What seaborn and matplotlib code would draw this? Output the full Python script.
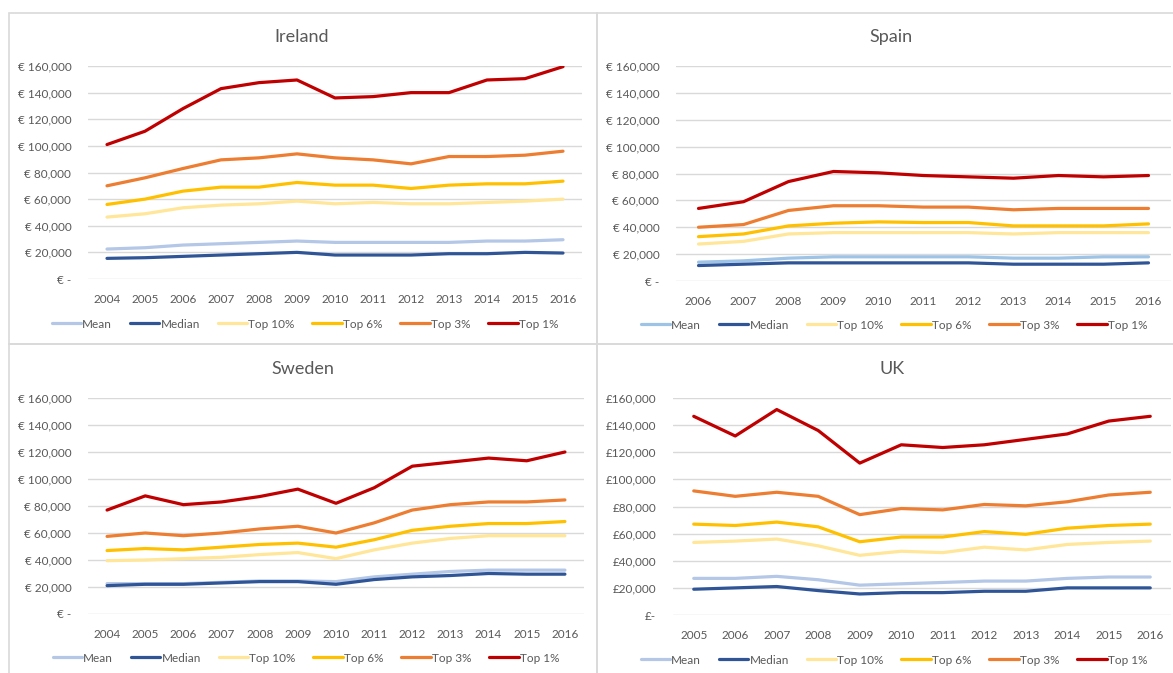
import pandas as pd
import matplotlib.pyplot as plt
import seaborn as sns
from matplotlib.ticker import FuncFormatter
from matplotlib.patches import Rectangle

# --- data ---
series = ['Mean', 'Median', 'Top 10%', 'Top 6%', 'Top 3%', 'Top 1%']

ireland_years = list(range(2004, 2017))
ireland_mean = [22500, 23500, 25500, 26500, 27500, 28500, 27500, 27500, 27500, 27500, 28500, 28500, 29500]
ireland_median = [15500, 16000, 17000, 18000, 19000, 20000, 18000, 18000, 18000, 19000, 19000, 20000, 19500]
ireland_top10 = [46500, 49000, 53500, 55500, 56500, 58500, 56500, 57500, 56500, 56500, 57500, 58500, 60000]
ireland_top6 = [56000, 60000, 66000, 69000, 69000, 72500, 70500, 70500, 68000, 70500, 71500, 71500, 73500]
ireland_top3 = [70000, 76000, 83000, 89500, 91000, 94000, 91000, 89500, 86500, 92000, 92000, 93000, 96000]
ireland_top1 = [101000, 111000, 128000, 143000, 147500, 149500, 136000, 137000, 140000, 140000, 149500, 150500, 159500]

spain_years = list(range(2006, 2017))
spain_mean = [14000, 15000, 17000, 18000, 18000, 18000, 18000, 17000, 17000, 18000, 18000]
spain_median = [11500, 12500, 13500, 13500, 13500, 13500, 13500, 12500, 12500, 12500, 13500]
spain_top10 = [27500, 29500, 35000, 36000, 36000, 36000, 36000, 35000, 36000, 36000, 36000]
spain_top6 = [33000, 35000, 41000, 43000, 44000, 43500, 43500, 41000, 41000, 41000, 42500]
spain_top3 = [40000, 42000, 52500, 56000, 56000, 55000, 55000, 53000, 54000, 54000, 54000]
spain_top1 = [54000, 59000, 74000, 81500, 80500, 78500, 77500, 76500, 78500, 77500, 78500]

sweden_years = list(range(2004, 2017))
sweden_mean = [22500, 22500, 22500, 23500, 24500, 24500, 24000, 27500, 29500, 31500, 32500, 32500, 32500]
sweden_median = [21000, 22000, 22000, 23000, 24000, 24000, 22000, 25500, 27500, 28500, 30000, 29500, 29500]
sweden_top10 = [39500, 40000, 41000, 42000, 44000, 45500, 41000, 47500, 52500, 56000, 58000, 58000, 58000]
sweden_top6 = [47000, 48500, 47500, 49500, 51500, 52500, 49500, 55000, 62000, 65000, 67000, 67000, 68500]
sweden_top3 = [57500, 60000, 58000, 60000, 63000, 65000, 60000, 67500, 77000, 81000, 83000, 83000, 84500]
sweden_top1 = [77000, 87500, 81000, 83000, 87000, 92500, 82000, 93500, 109500, 112500, 115500, 113500, 120000]

uk_years = list(range(2005, 2017))
uk_mean = [27000, 27000, 28500, 26000, 22000, 23000, 24000, 25000, 25000, 27000, 28000, 28000]
uk_median = [19000, 20000, 21000, 18000, 15500, 16500, 16500, 17500, 17500, 20000, 20000, 20000]
uk_top10 = [53500, 54500, 56000, 51000, 44000, 47000, 46000, 50000, 48000, 52000, 53500, 54500]
uk_top6 = [67000, 66000, 68500, 65000, 54000, 57500, 57500, 61500, 59500, 64000, 66000, 67000]
uk_top3 = [91500, 87500, 90500, 87500, 74000, 78500, 77500, 81500, 80500, 83500, 88500, 90500]
uk_top1 = [146500, 132000, 151500, 136000, 112000, 125500, 123500, 125500, 129500, 133500, 143000, 146500]

colors = ['#B4C7E7', '#2F5597', '#FFE699', '#FFC000', '#ED7D31', '#C00000']
spain_colors = ['#9DC3E6', '#2F5597', '#FFE699', '#FFC000', '#ED7D31', '#C00000']


def to_long(years, cols):
    rows = []
    for name, vals in zip(series, cols):
        for y, v in zip(years, vals):
            rows.append({'Year': y, 'Series': name, 'Value': v})
    return pd.DataFrame(rows)


sns.set_theme(style='white')
plt.rcParams['font.family'] = ['Lato', 'DejaVu Sans']
grey = '#595959'

W, H = 1173, 673
fig = plt.figure(figsize=(W / 100, H / 100), dpi=100)
fig.patch.set_facecolor('white')

# panel frames
for (x0, y0, x1, y1) in [(9, 13, 597, 344), (597, 13, 1185, 344),
                         (9, 344, 597, 690), (597, 344, 1185, 690)]:
    fig.patches.append(Rectangle((x0 / W, 1 - y1 / H), (x1 - x0) / W, (y1 - y0) / H,
                                 transform=fig.transFigure, fill=False,
                                 edgecolor='#D9D9D9', lw=1.2, zorder=0))

# title, years, data, palette, currency, plot box (left, top, right, bottom px), title pos, legend centre
panels = [
    ('Ireland', ireland_years, [ireland_mean, ireland_median, ireland_top10, ireland_top6, ireland_top3, ireland_top1],
     colors, '€ ', (88, 66, 582, 279), (302, 37), (305, 324)),
    ('Spain', spain_years, [spain_mean, spain_median, spain_top10, spain_top6, spain_top3, spain_top1],
     spain_colors, '€ ', (676, 66, 1171, 281), (891, 37), (894, 325)),
    ('Sweden', sweden_years, [sweden_mean, sweden_median, sweden_top10, sweden_top6, sweden_top3, sweden_top1],
     colors, '€ ', (88, 398, 584, 614), (303, 369), (306, 658)),
    ('UK', uk_years, [uk_mean, uk_median, uk_top10, uk_top6, uk_top3, uk_top1],
     colors, '£', (673, 398, 1171, 615), (892, 369), (894, 660)),
]

for title, years, cols, pal, cur, box, tpos, lc in panels:
    l, t, r, b = box
    ax = fig.add_axes([l / W, 1 - b / H, (r - l) / W, (b - t) / H])
    df = to_long(years, cols)
    sns.lineplot(data=df, x='Year', y='Value', hue='Series', hue_order=series,
                 palette=pal, linewidth=2.3, ax=ax, legend=True)
    ax.set_xlim(years[0] - 0.5, years[-1] + 0.5)
    ax.set_ylim(0, 160000)
    ax.set_xticks(years)
    ax.set_yticks(range(0, 160001, 20000))
    ax.yaxis.set_major_formatter(FuncFormatter(
        lambda v, p, c=cur: f'{c}-' if v == 0 else f'{c}{int(v):,}'))
    ax.grid(axis='y', color='#D9D9D9', lw=1)
    ax.set_axisbelow(True)
    for s in ax.spines.values():
        s.set_visible(False)
    ax.tick_params(axis='x', length=0, pad=11, labelsize=8.5, labelcolor=grey)
    ax.tick_params(axis='y', length=0, pad=12, labelsize=8.5, labelcolor=grey)
    ax.set_xlabel('')
    ax.set_ylabel('')
    fig.text(tpos[0] / W, 1 - tpos[1] / H, title, ha='center', va='center',
             fontsize=13, color=grey)
    handles, labels = ax.get_legend_handles_labels()
    ax.legend(handles, labels, loc='center', bbox_to_anchor=(lc[0] / W, 1 - lc[1] / H),
              bbox_transform=fig.transFigure, ncol=6, frameon=False, fontsize=8.5,
              handlelength=2.5, handletextpad=0.1, columnspacing=1.5, labelcolor=grey)

fig.savefig('out.png', dpi=100, facecolor='white')
